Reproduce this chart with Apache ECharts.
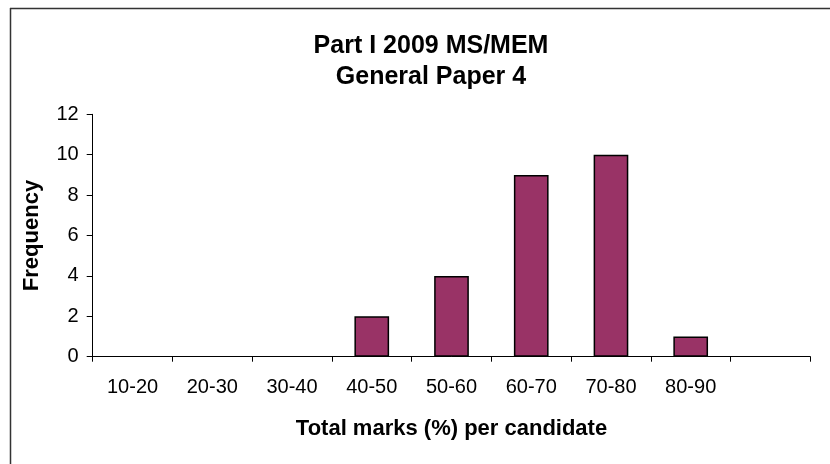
<!DOCTYPE html>
<html>
<head>
<meta charset="utf-8">
<script src="https://cdn.jsdelivr.net/npm/echarts@6/dist/echarts.min.js"></script>
<style>
html,body{margin:0;padding:0;background:#fff;}
#chart{width:830px;height:464px;}
</style>
</head>
<body>
<div id="chart"></div>
<script>
const categories = ['10-20','20-30','30-40','40-50','50-60','60-70','70-80','80-90',''];
const frequency = [0,0,0,2,4,9,10,1,null];
const yTicks = [0,2,4,6,8,10,12];
const titleLines = ['Part I 2009 MS/MEM','General Paper 4'];
const xName = 'Total marks (%) per candidate';
const yName = 'Frequency';

const FONT = '"Liberation Sans", Arial, sans-serif';
const barData = frequency.map(v => v === 0 ? {value:0, itemStyle:{borderWidth:0}} : v);
const chart = echarts.init(document.getElementById('chart'), null, {renderer:'canvas'});
chart.setOption({
  animation:false,
  backgroundColor:'#ffffff',
  title:{
    text: titleLines.join('\n'),
    left: 426, top: 26,
    textAlign:'center',
    textStyle:{fontFamily:FONT,fontWeight:'bold',fontSize:25,color:'#000',lineHeight:31}
  },
  graphic:[
    {type:'line',shape:{x1:10,y1:8.5,x2:830,y2:8.5},style:{stroke:'#333',lineWidth:1.5}},
    {type:'line',shape:{x1:10.5,y1:8,x2:10.5,y2:464},style:{stroke:'#333',lineWidth:1.5}}
  ],
  grid:{left:92.7,right:19.7,top:114.3,bottom:107.3,containLabel:false},
  xAxis:{
    type:'category',
    data:categories,
    name:xName,
    nameLocation:'middle',
    nameGap:61,
    nameTextStyle:{fontFamily:FONT,fontWeight:'bold',fontSize:22,color:'#000'},
    axisLine:{lineStyle:{color:'#000',width:1}},
    axisTick:{show:true,alignWithLabel:false,length:5,lineStyle:{color:'#000'}},
    axisLabel:{fontFamily:FONT,fontSize:20,color:'#000',margin:21,interval:0}
  },
  yAxis:{
    type:'value',
    min:yTicks[0],max:yTicks[yTicks.length-1],interval:2,
    name:yName,
    nameLocation:'middle',
    nameGap:50,
    nameTextStyle:{fontFamily:FONT,fontWeight:'bold',fontSize:22,color:'#000'},
    axisLine:{show:true,lineStyle:{color:'#000',width:1}},
    axisTick:{show:true,length:6,lineStyle:{color:'#000'}},
    axisLabel:{fontFamily:FONT,fontSize:20,color:'#000',margin:14},
    splitLine:{show:false}
  },
  series:[{
    type:'bar',
    data:barData,
    barWidth:'43.5%',
    itemStyle:{color:'#993366',borderColor:'#000',borderWidth:1.5}
  }]
});
</script>
</body>
</html>
